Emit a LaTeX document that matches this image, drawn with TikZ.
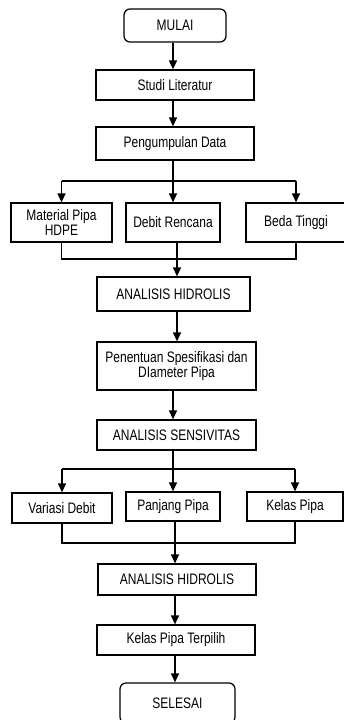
\documentclass[tikz,border=0pt]{standalone}
\usepackage{fontspec}
\setmainfont[FakeStretch=0.79]{Liberation Sans}
\usetikzlibrary{arrows.meta}
\begin{document}
\begin{tikzpicture}[x=1pt,y=-1pt,
  every node/.style={font=\fontsize{15.2}{12}\selectfont},
  box/.style={draw, line width=1.25pt, inner sep=0pt, align=center},
  term/.style={box, rounded corners=6pt},
  link/.style={line width=1.25pt},
  arr/.style={link, -{Triangle[width=8pt,length=9pt]}}]
\useasboundingbox (0,0) rectangle (344,720);
\clip (0,0) rectangle (344,720);
\fill[white] (0,0) rectangle (344,720);
% nodes
\node[term, minimum width=102pt, minimum height=33pt] (mulai) at (175,25.5) {MULAI};
\node[box, minimum width=158pt, minimum height=30pt] (studi) at (175,85) {Studi Literatur};
\node[box, minimum width=158pt, minimum height=33pt] (peng) at (175,143.5) {Pengumpulan Data};
\node[box, minimum width=101pt, minimum height=39pt, font=\fontsize{15.2}{10.5}\selectfont] (mat) at (61.5,222.5) {Material Pipa\\HDPE};
\node[box, minimum width=94pt, minimum height=39pt] (debit) at (173,222.5) {Debit Rencana};
\node[box, minimum width=100pt, minimum height=39pt] (beda) at (296,222.5) {Beda Tinggi};
\node[box, minimum width=153pt, minimum height=34pt] (ah1) at (173.5,294) {ANALISIS HIDROLIS};
\node[box, minimum width=159pt, minimum height=48pt] (pen) at (176.5,366) {Penentuan Spesifikasi dan\\DIameter Pipa};
\node[box, minimum width=159pt, minimum height=30pt] (as) at (176.5,435) {ANALISIS SENSIVITAS};
\node[box, minimum width=100pt, minimum height=30pt] (var) at (62,508) {Variasi Debit};
\node[box, minimum width=94pt, minimum height=29pt] (panj) at (173,506.5) {Panjang Pipa};
\node[box, minimum width=96pt, minimum height=29pt] (kelas) at (295,506.5) {Kelas Pipa};
\node[box, minimum width=158pt, minimum height=31pt] (ah2) at (177,579.5) {ANALISIS HIDROLIS};
\node[box, minimum width=158pt, minimum height=30pt] (kpt) at (176,640) {Kelas Pipa Terpilih};
\node[term, minimum width=115pt, minimum height=40pt] (sel) at (177.5,703) {SELESAI};
% coordinates for split / merge lines
\coordinate (s1) at (173,181);
\coordinate (m1) at (177,259);
\coordinate (s2) at (173,469);
\coordinate (m2) at (175,543);
% connectors
\draw[arr] (mulai.south -| s1) -- (studi.north -| s1);
\draw[arr] (studi.south -| s1) -- (peng.north -| s1);
\draw[link] (peng.south -| s1) -- (s1);
\draw[link] (s1 -| mat.north) -- (s1 -| beda.north);
\draw[arr] (s1 -| mat.north) -- (mat.north);
\draw[arr] (s1) -- (debit.north -| s1);
\draw[arr] (s1 -| beda.north) -- (beda.north);
\draw[link] (mat.south) -- (m1 -| mat.south) -- (m1 -| beda.south) -- (beda.south);
\draw[link] (debit.south -| m1) -- (m1);
\draw[arr] (m1) -- (ah1.north -| m1);
\draw[arr] (ah1.south -| m1) -- (pen.north -| m1);
\draw[arr] (pen.south -| s2) -- (as.north -| s2);
\draw[link] (as.south -| s2) -- (s2);
\draw[link] (s2 -| var.north) -- (s2 -| kelas.north);
\draw[arr] (s2 -| var.north) -- (var.north);
\draw[arr] (s2) -- (panj.north -| s2);
\draw[arr] (s2 -| kelas.north) -- (kelas.north);
\draw[link] (var.south) -- (m2 -| var.south) -- (m2 -| kelas.south) -- (kelas.south);
\draw[link] (panj.south -| m2) -- (m2);
\draw[arr] (m2) -- (ah2.north -| m2);
\draw[arr] (ah2.south -| m2) -- (kpt.north -| m2);
\draw[arr] (kpt.south -| m2) -- (sel.north -| m2);
\end{tikzpicture}
\end{document}
